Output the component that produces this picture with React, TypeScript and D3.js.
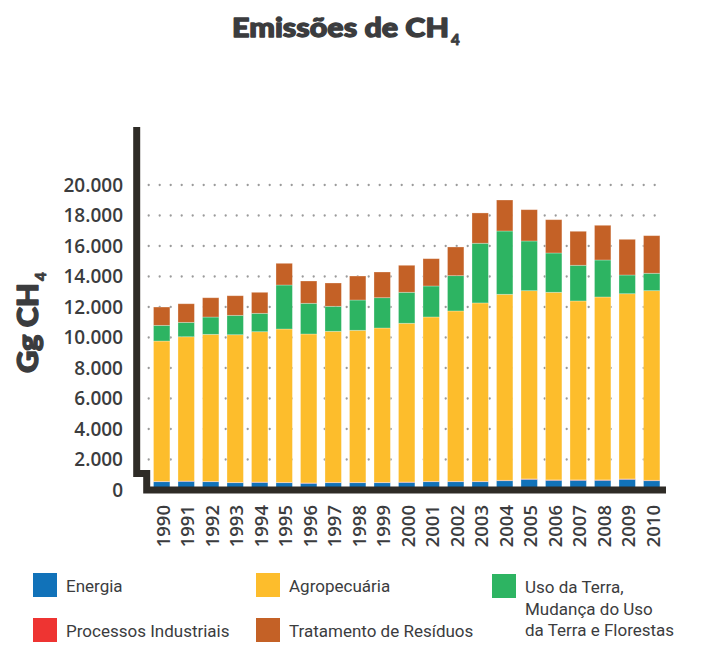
import React, { useRef, useEffect } from 'react'
import * as d3 from 'd3'

const years = ['1990', '1991', '1992', '1993', '1994', '1995', '1996', '1997', '1998', '1999', '2000',
  '2001', '2002', '2003', '2004', '2005', '2006', '2007', '2008', '2009', '2010']

const energia = [545, 570, 545, 480, 500, 480, 440, 480, 480, 480, 500, 545, 545, 545, 610, 700, 635, 635, 635, 700, 610]
const processos = [18, 17, 18, 19, 20, 20, 21, 21, 20, 21, 22, 22, 23, 24, 26, 27, 27, 28, 27, 25, 28]
const agropecuaria = [9205, 9462, 9644, 9683, 9860, 10057, 9769, 9906, 9972, 10122, 10411, 10779, 11172,
  11697, 12197, 12343, 12303, 11733, 11995, 12146, 12433]
const usoTerra = [1029, 944, 1135, 1272, 1206, 2885, 2013, 1639, 1986, 1987, 2032, 2032, 2315, 3914, 4151,
  3259, 2577, 2340, 2426, 1227, 1141]
const residuos = [1201, 1220, 1265, 1285, 1377, 1423, 1462, 1528, 1574, 1685, 1770, 1791, 1881, 1987, 2032,
  2053, 2184, 2229, 2275, 2340, 2466]

const seriesKeys = ['energia', 'processos', 'agro', 'uso', 'residuos']
const seriesColors = ['#1172b9', '#ee3432', '#fdbd2c', '#2db462', '#c46126']
const yTicks = [0, 2000, 4000, 6000, 8000, 10000, 12000, 14000, 16000, 18000, 20000]

const legendItems = [
  { key: 'energia', lines: ['Energia'] },
  { key: 'processos', lines: ['Processos Industriais'] },
  { key: 'agro', lines: ['Agropecuária'] },
  { key: 'residuos', lines: ['Tratamento de Resíduos'] },
  { key: 'uso', lines: ['Uso da Terra,', 'Mudança do Uso', 'da Terra e Florestas'] },
]

const textColor = '#3b3c3e'
const axisColor = '#2e2b26'

const App = () => {
  const svgRef = useRef(null)

  useEffect(() => {
    const svg = d3.select(svgRef.current)
    svg.selectAll('*').remove()

    const table = years.map((year, i) => ({
      year,
      energia: energia[i],
      processos: processos[i],
      agro: agropecuaria[i],
      uso: usoTerra[i],
      residuos: residuos[i],
    }))

    const xScale = d3.scaleBand()
      .domain(years)
      .range([149.45, 663.95])
      .paddingInner(0.33)
      .paddingOuter(0.165)

    const yScale = d3.scaleLinear()
      .domain([0, 20000])
      .range([490, 185])

    const color = d3.scaleOrdinal().domain(seriesKeys).range(seriesColors)

    const locale = d3.formatLocale({ decimal: ',', thousands: '.', grouping: [3], currency: ['', ''] })
    const fmt = locale.format(',d')

    const heavy = sel => sel
      .attr('fill', textColor)
      .attr('stroke', textColor)
      .attr('stroke-width', 1.3)
      .attr('stroke-linejoin', 'round')
      .style('font-family', 'Lato, sans-serif')
      .style('font-weight', 900)

    // title
    svg.append('text')
      .call(heavy)
      .attr('x', 232)
      .attr('y', 37)
      .attr('textLength', 217)
      .attr('lengthAdjust', 'spacingAndGlyphs')
      .style('font-size', '27px')
      .text('Emissões de CH')
    svg.append('text')
      .call(heavy)
      .attr('x', 451)
      .attr('y', 45)
      .attr('stroke-width', 0.8)
      .style('font-size', '15px')
      .text('4')

    // dotted grid
    svg.append('g')
      .selectAll('line')
      .data(yTicks.filter(t => t > 0))
      .join('line')
      .attr('x1', 148.7)
      .attr('x2', 665)
      .attr('y1', d => yScale(d))
      .attr('y2', d => yScale(d))
      .attr('stroke', '#9b9b9b')
      .attr('stroke-width', 2.3)
      .attr('stroke-linecap', 'round')
      .attr('stroke-dasharray', '0 11')

    // stacked bars
    const stacked = d3.stack().keys(seriesKeys)(table)
    svg.append('g')
      .selectAll('g')
      .data(stacked)
      .join('g')
      .attr('fill', d => color(d.key))
      .selectAll('rect')
      .data(d => d)
      .join('rect')
      .attr('x', d => xScale(d.data.year))
      .attr('width', xScale.bandwidth())
      .attr('y', d => yScale(d[1]))
      .attr('height', d => yScale(d[0]) - yScale(d[1]))
      .attr('stroke', 'rgba(255,255,255,0.35)')
      .attr('stroke-width', 0.8)

    // broken axis
    svg.append('path')
      .attr('d', 'M136.7,127 V473.4 H146.7 V490 H666')
      .attr('fill', 'none')
      .attr('stroke', axisColor)
      .attr('stroke-width', 7)
      .attr('stroke-linejoin', 'miter')

    // y tick labels
    svg.append('g')
      .selectAll('text')
      .data(yTicks)
      .join('text')
      .attr('x', 123)
      .attr('y', d => yScale(d))
      .attr('dy', '0.36em')
      .attr('text-anchor', 'end')
      .attr('fill', textColor)
      .style('font-family', '"Open Sans", sans-serif')
      .style('font-weight', 600)
      .style('font-size', '19px')
      .text(d => fmt(d))

    // x tick labels
    svg.append('g')
      .selectAll('text')
      .data(years)
      .join('text')
      .attr('transform', d => `translate(${xScale(d) + xScale.bandwidth() / 2 + 1.5},505) rotate(-90)`)
      .attr('dy', '0.36em')
      .attr('text-anchor', 'end')
      .attr('fill', textColor)
      .style('font-family', '"Open Sans", sans-serif')
      .style('font-weight', 600)
      .style('font-size', '18.5px')
      .text(d => d)

    // y axis title
    const yTitle = svg.append('g').attr('transform', 'translate(38,373) rotate(-90)')
    yTitle.append('text')
      .call(heavy)
      .attr('textLength', 90)
      .attr('lengthAdjust', 'spacingAndGlyphs')
      .style('font-size', '28px')
      .text('Gg CH')
    yTitle.append('text')
      .call(heavy)
      .attr('x', 92)
      .attr('y', 8)
      .attr('stroke-width', 0.8)
      .style('font-size', '15px')
      .text('4')

    // legend
    const legendPos = {
      energia: [33, 573],
      processos: [33, 618],
      agro: [256, 573],
      residuos: [256, 618],
      uso: [492, 574],
    }
    const legend = svg.append('g')
      .selectAll('g')
      .data(legendItems)
      .join('g')
      .attr('transform', d => `translate(${legendPos[d.key][0]},${legendPos[d.key][1]})`)

    legend.append('rect')
      .attr('width', 24)
      .attr('height', 24)
      .attr('fill', d => color(d.key))

    legend.append('text')
      .attr('fill', textColor)
      .style('font-family', 'Roboto, sans-serif')
      .style('font-size', '17px')
      .selectAll('tspan')
      .data(d => d.lines)
      .join('tspan')
      .attr('x', 33)
      .attr('y', (d, i) => 19 + i * 21.5)
      .text(d => d)
  }, [])

  return (
    <div style={{ position: 'absolute', left: 0, top: 0 }}>
      <svg ref={svgRef} width={701} height={645} style={{ display: 'block', background: 'white' }}></svg>
    </div>
  )
}

export default App
